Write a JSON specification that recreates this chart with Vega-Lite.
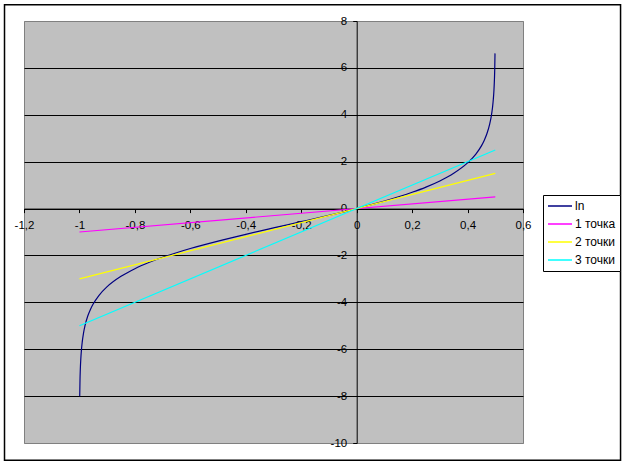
{
  "$schema": "https://vega.github.io/schema/vega-lite/v6.json",
  "width": 499,
  "height": 422,
  "autosize": {"type": "none"},
  "padding": {"left": 24, "top": 21, "right": 101, "bottom": 22},
  "background": "white",
  "config": {
    "font": "Liberation Sans",
    "view": {"fill": "#C0C0C0", "stroke": "#808080", "strokeWidth": 1}
  },
  "layer": [
    {
      "data": {
        "values": [
          {"x": -0.999, "y": -8.006, "s": "ln"},
          {"x": -0.998, "y": -7.312, "s": "ln"},
          {"x": -0.997, "y": -6.906, "s": "ln"},
          {"x": -0.995, "y": -6.394, "s": "ln"},
          {"x": -0.993, "y": -6.056, "s": "ln"},
          {"x": -0.99, "y": -5.697, "s": "ln"},
          {"x": -0.985, "y": -5.288, "s": "ln"},
          {"x": -0.98, "y": -4.997, "s": "ln"},
          {"x": -0.97, "y": -4.585, "s": "ln"},
          {"x": -0.96, "y": -4.291, "s": "ln"},
          {"x": -0.95, "y": -4.061, "s": "ln"},
          {"x": -0.93, "y": -3.71, "s": "ln"},
          {"x": -0.9, "y": -3.332, "s": "ln"},
          {"x": -0.85, "y": -2.89, "s": "ln"},
          {"x": -0.8, "y": -2.565, "s": "ln"},
          {"x": -0.75, "y": -2.303, "s": "ln"},
          {"x": -0.7, "y": -2.079, "s": "ln"},
          {"x": -0.65, "y": -1.883, "s": "ln"},
          {"x": -0.6, "y": -1.705, "s": "ln"},
          {"x": -0.5, "y": -1.386, "s": "ln"},
          {"x": -0.4, "y": -1.099, "s": "ln"},
          {"x": -0.3, "y": -0.827, "s": "ln"},
          {"x": -0.2, "y": -0.56, "s": "ln"},
          {"x": -0.1, "y": -0.288, "s": "ln"},
          {"x": 0, "y": 0, "s": "ln"},
          {"x": 0.1, "y": 0.319, "s": "ln"},
          {"x": 0.2, "y": 0.693, "s": "ln"},
          {"x": 0.25, "y": 0.916, "s": "ln"},
          {"x": 0.3, "y": 1.179, "s": "ln"},
          {"x": 0.35, "y": 1.504, "s": "ln"},
          {"x": 0.4, "y": 1.946, "s": "ln"},
          {"x": 0.43, "y": 2.324, "s": "ln"},
          {"x": 0.45, "y": 2.674, "s": "ln"},
          {"x": 0.46, "y": 2.904, "s": "ln"},
          {"x": 0.47, "y": 3.199, "s": "ln"},
          {"x": 0.48, "y": 3.611, "s": "ln"},
          {"x": 0.485, "y": 3.902, "s": "ln"},
          {"x": 0.49, "y": 4.311, "s": "ln"},
          {"x": 0.493, "y": 4.67, "s": "ln"},
          {"x": 0.495, "y": 5.007, "s": "ln"},
          {"x": 0.497, "y": 5.52, "s": "ln"},
          {"x": 0.498, "y": 5.926, "s": "ln"},
          {"x": 0.499, "y": 6.619, "s": "ln"},
          {"x": -1, "y": -1, "s": "1 точка"},
          {"x": 0.5, "y": 0.5, "s": "1 точка"},
          {"x": -1, "y": -3, "s": "2 точки"},
          {"x": 0.5, "y": 1.5, "s": "2 точки"},
          {"x": -1, "y": -5, "s": "3 точки"},
          {"x": 0.5, "y": 2.5, "s": "3 точки"}
        ]
      },
      "mark": {"type": "line", "strokeWidth": 1.2, "interpolate": "monotone"},
      "encoding": {
        "x": {
          "field": "x", "type": "quantitative",
          "scale": {"domain": [-1.2, 0.6], "nice": false, "zero": false},
          "axis": {
            "orient": "bottom", "offset": -234.4, "title": null, "grid": false,
            "values": [-1.2, -1, -0.8, -0.6, -0.4, -0.2, 0, 0.2, 0.4, 0.6],
            "labelExpr": "replace(toString(datum.value), '.', ',')",
            "domainColor": "black", "domainWidth": 1,
            "tickColor": "black", "tickSize": 4, "tickWidth": 1,
            "labelColor": "black", "labelFontSize": 11.5, "labelPadding": 7,
            "labelFlush": false, "labelOverlap": false, "labelBound": false
          }
        },
        "y": {
          "field": "y", "type": "quantitative",
          "scale": {"domain": [-10, 8], "nice": false, "zero": false},
          "axis": {
            "orient": "left", "offset": -332.7, "title": null, "grid": true,
            "values": [-10, -8, -6, -4, -2, 0, 2, 4, 6, 8],
            "labelExpr": "replace(toString(datum.value), '.', ',')",
            "gridColor": {"condition": {"test": "datum.value === 8 || datum.value === -10", "value": "#808080"}, "value": "black"},
            "gridWidth": 1,
            "domainColor": "black", "domainWidth": 1,
            "tickColor": "black", "tickSize": 4, "tickWidth": 1,
            "labelColor": "black", "labelFontSize": 11.5, "labelPadding": 6,
            "labelFlush": false, "labelOverlap": false, "labelBound": false
          }
        },
        "color": {
          "field": "s", "type": "nominal",
          "scale": {"domain": ["ln", "1 точка", "2 точки", "3 точки"], "range": ["#000080", "#FF00FF", "#FFFF00", "#00FFFF"]},
          "legend": {
            "title": null, "orient": "none", "legendX": 519, "legendY": 174,
            "symbolType": "stroke", "symbolSize": 576, "symbolStrokeWidth": 1.5,
            "labelFont": "Liberation Sans", "labelFontSize": 12, "labelColor": "black", "labelOffset": 2,
            "clipHeight": 14, "rowPadding": 4, "padding": 4,
            "strokeColor": "black", "fillColor": "white", "cornerRadius": 0
          }
        }
      }
    },
    {
      "data": {"values": [{}]},
      "mark": {"type": "rect", "fill": null, "stroke": "black", "strokeWidth": 1.5, "clip": false},
      "encoding": {
        "x": {"datum": -1.2703, "type": "quantitative"},
        "x2": {"datum": 0.9519},
        "y": {"datum": 8.695, "type": "quantitative"},
        "y2": {"datum": -10.738}
      }
    }
  ]
}
